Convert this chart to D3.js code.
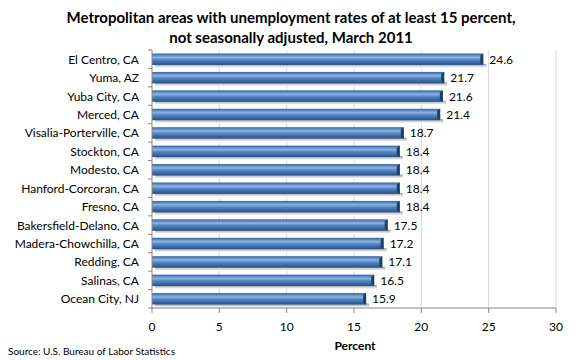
<!DOCTYPE html>
<html><head><meta charset="utf-8">
<script src="https://cdn.jsdelivr.net/npm/d3@7"></script>
<style>body{margin:0;background:#fff}svg{display:block}text{font-family:Lato,"Open Sans",sans-serif}</style>
</head><body><svg id="c" width="580" height="360"></svg>
<script>
const categories = ["El Centro, CA","Yuma, AZ","Yuba City, CA","Merced, CA","Visalia-Porterville, CA","Stockton, CA","Modesto, CA","Hanford-Corcoran, CA","Fresno, CA","Bakersfield-Delano, CA","Madera-Chowchilla, CA","Redding, CA","Salinas, CA","Ocean City, NJ"];
const values = [24.6,21.7,21.6,21.4,18.7,18.4,18.4,18.4,18.4,17.5,17.2,17.1,16.5,15.9];
const xTicks = [0,5,10,15,20,25,30];
const titleLines = ["Metropolitan areas with unemployment rates of at least 15 percent,","not seasonally adjusted, March 2011"];

const svg = d3.select("#c");
const x = d3.scaleLinear().domain([0,30]).range([152,556]);
const y = d3.scaleBand().domain(categories).range([50,308]).paddingInner(0.38).paddingOuter(0.19);

const defs = svg.append("defs");
const g = defs.append("linearGradient").attr("id","bar").attr("x1",0).attr("x2",0).attr("y1",0).attr("y2",1);
[[0,"#2f5f98"],[0.15,"#5a8ac6"],[0.35,"#8db4e3"],[0.5,"#5b8bc8"],[0.75,"#3f6faa"],[1,"#274f80"]].forEach(s=>g.append("stop").attr("offset",s[0]).attr("stop-color",s[1]));
const sh = defs.append("linearGradient").attr("id","sh").attr("x1",0).attr("x2",0).attr("y1",0).attr("y2",1);
[[0,"#9a9a9a"],[1,"#ffffff"]].forEach(s=>sh.append("stop").attr("offset",s[0]).attr("stop-color",s[1]));

// gridlines
svg.append("g").selectAll("line").data(xTicks.slice(1)).join("line")
  .attr("x1",d=>x(d)).attr("x2",d=>x(d)).attr("y1",50).attr("y2",308)
  .attr("stroke","#d9d9d9").attr("stroke-width",1);

// shadows
svg.append("g").selectAll("rect").data(values).join("rect")
  .attr("x",x(0)+3).attr("y",(d,i)=>y(categories[i])+y.bandwidth()-1)
  .attr("width",d=>x(d)-x(0)).attr("height",4).attr("fill","url(#sh)");

// bars
svg.append("g").selectAll("rect").data(values).join("rect")
  .attr("x",x(0)).attr("y",(d,i)=>y(categories[i]))
  .attr("width",d=>x(d)-x(0)).attr("height",y.bandwidth())
  .attr("fill","url(#bar)");
// end bevel
svg.append("g").selectAll("path").data(values).join("path")
  .attr("d",(d,i)=>{const x1=x(d),y0=y(categories[i]),h=y.bandwidth();return `M${x1-3},${y0+2}L${x1},${y0}L${x1},${y0+h}L${x1-3},${y0+h-2}Z`;})
  .attr("fill","#1f3f66");

// value labels
svg.append("g").selectAll("text").data(values).join("text")
  .attr("x",d=>x(d)+6).attr("y",(d,i)=>y(categories[i])+y.bandwidth()/2+4.5)
  .attr("font-size",12).attr("fill","#000").text(d=>d.toFixed(1));

// y axis
const ya = svg.append("g").attr("transform",`translate(${x(0)},0)`);
ya.append("line").attr("x1",0).attr("x2",0).attr("y1",50).attr("y2",308).attr("stroke","#868686");
ya.selectAll("line.t").data(d3.range(categories.length+1)).join("line").attr("class","t")
  .attr("x1",-4).attr("x2",0).attr("y1",i=>50+(308-50)/categories.length*i).attr("y2",i=>50+(308-50)/categories.length*i).attr("stroke","#868686");
ya.selectAll("text").data(categories).join("text")
  .attr("x",-13).attr("y",d=>y(d)+y.bandwidth()/2+4.5).attr("text-anchor","end")
  .attr("font-size",12).attr("fill","#000").text(d=>d);

// x axis
const xa = svg.append("g").attr("transform","translate(0,308)");
xa.append("line").attr("x1",x(0)).attr("x2",x(30)).attr("stroke","#868686");
xa.selectAll("line.t").data(xTicks).join("line").attr("class","t")
  .attr("x1",d=>x(d)).attr("x2",d=>x(d)).attr("y1",0).attr("y2",5).attr("stroke","#868686");
xa.selectAll("text").data(xTicks).join("text")
  .attr("x",d=>x(d)).attr("y",23).attr("text-anchor","middle").attr("font-size",12).text(d=>d);

svg.append("text").attr("x",x(15)+1).attr("y",350).attr("text-anchor","middle").attr("font-size",12).attr("font-weight","bold").text("Percent");
svg.append("text").attr("x",8).attr("y",355).attr("font-size",10).text("Source: U.S. Bureau of Labor Statistics");

svg.append("g").selectAll("text").data(titleLines).join("text")
  .attr("x",291).attr("y",(d,i)=>23+i*20).attr("text-anchor","middle")
  .attr("font-size",15).attr("font-weight","bold").text(d=>d);
</script></body></html>
